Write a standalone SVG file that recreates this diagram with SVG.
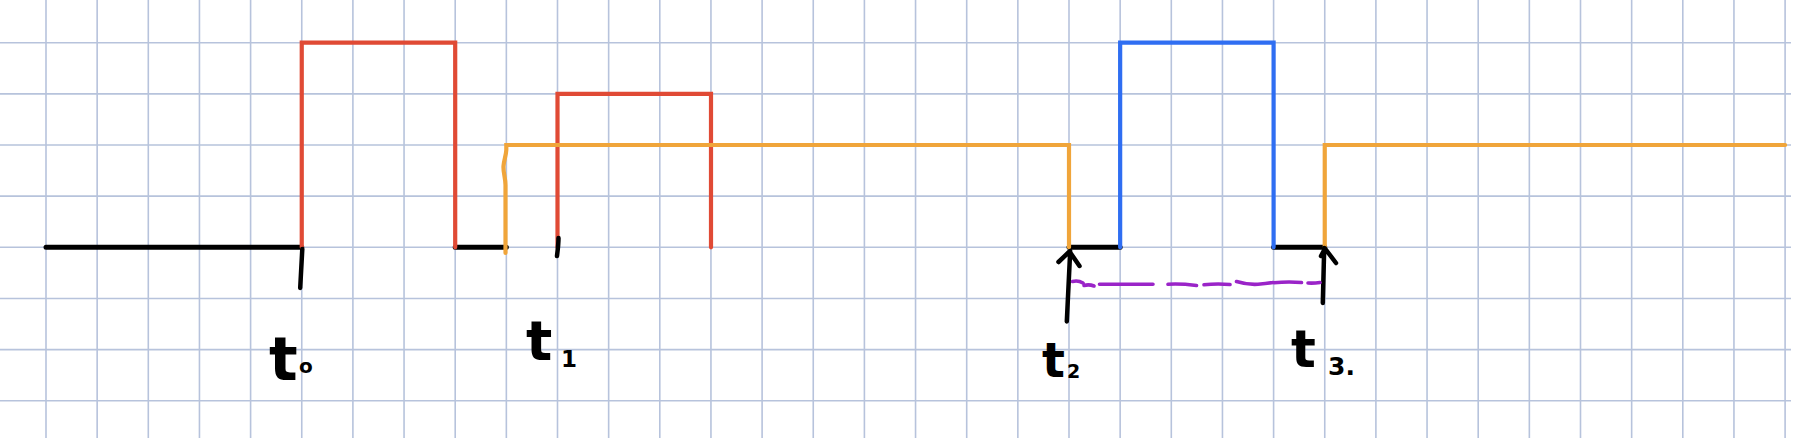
<svg xmlns="http://www.w3.org/2000/svg" width="1798" height="438" viewBox="0 0 1798 438">
<style>
.grid{stroke:#b7c3dc;stroke-width:1.6;fill:none}
.sig{fill:none;stroke-width:4.2;stroke-linejoin:miter;stroke-linecap:round}
.blk{stroke:#000;stroke-width:5}
.red{stroke:#e04a35}
.org{stroke:#f0a53a}
.blu{stroke:#2f6ef2}
.ink{fill:none;stroke:#000;stroke-width:4.5;stroke-linecap:round;stroke-linejoin:round}
.pur{fill:none;stroke:#9a24c8;stroke-width:3.6;stroke-linecap:round;stroke-linejoin:round}
.lbl{font-family:"DejaVu Sans",sans-serif;font-weight:bold;fill:#000}
</style>
<rect width="1798" height="438" fill="#fff"/>
<g id="grid" class="grid">
<path d="M46 0V438M97.15 0V438M148.3 0V438M199.45 0V438M250.6 0V438M301.75 0V438M352.9 0V438M404.05 0V438M455.2 0V438M506.35 0V438M557.5 0V438M608.65 0V438M659.8 0V438M710.95 0V438M762.1 0V438M813.25 0V438M864.4 0V438M915.55 0V438M966.7 0V438M1017.85 0V438M1069 0V438M1120.15 0V438M1171.3 0V438M1222.45 0V438M1273.6 0V438M1324.75 0V438M1375.9 0V438M1427.05 0V438M1478.2 0V438M1529.35 0V438M1580.5 0V438M1631.65 0V438M1682.8 0V438M1733.95 0V438M1785.1 0V438"/>
<path d="M0 42.7H1791M0 93.85H1791M0 145H1791M0 196.15H1791M0 247.3H1791M0 298.45H1791M0 349.6H1791M0 400.75H1791"/>
</g>
<g id="signals">
<path id="black-low" class="sig blk" d="M46 247.3H301.75M455.2 247.3H506.35M1069 247.3H1120.15M1273.6 247.3H1324.75"/>
<path id="red-pulses" class="sig red" d="M301.75 247.3V42.7H455.2V247.3M557.5 247.3V93.85H711V247.3"/>
<path id="orange-level" class="sig org" d="M505.5 253V185C505.5 178 503 172 503.5 166C504 160 506 156 506.3 150V145H1069V247.3M1324.75 247.3V145H1785.1"/>
<path id="blue-pulse" class="sig blu" d="M1120.15 247.3V42.7H1273.6V247.3"/>
</g>
<g id="marks">
<path id="tick-t0" class="ink" d="M302.3 249L300.2 288"/>
<path id="tick-t1" class="ink" d="M558.5 238Q558.5 244 557 256"/>
<path id="arrow-t2" class="ink" d="M1066.8 321.5L1070.2 251M1058.5 262L1069.5 251.5L1079.5 266"/>
<path id="arrow-t3" class="ink" d="M1322.8 303L1324.2 248M1321 256L1325 248.5L1336 263"/>
</g>
<g id="interval" class="pur">
<path d="M1072.5 281.5Q1078 280 1083 283M1084 285.5Q1089 284 1094 286"/>
<path d="M1099.5 284.2H1153M1168 284.3Q1180 283.5 1196.5 285.5M1204 284.8Q1216 283.5 1230 284.5M1236.5 281.5Q1248 285 1258 284.3Q1266 283.5 1273 282.5M1274 282.7Q1288 281.5 1301.5 282.5M1308 283Q1314 283.3 1320 282.5"/>
</g>
<g id="labels">
<text id="label-t0" class="lbl" x="269" y="380" font-size="60">t<tspan x="299" y="373" font-size="20">o</tspan></text>
<text id="label-t1" class="lbl" x="526" y="360" font-size="55">t<tspan x="561" y="367" font-size="23">1</tspan></text>
<text id="label-t2" class="lbl" x="1042" y="377" font-size="48">t<tspan x="1067" y="378" font-size="19">2</tspan></text>
<text id="label-t3" class="lbl" x="1291" y="367" font-size="52">t<tspan x="1328" y="375" font-size="25">3.</tspan></text>
</g>
</svg>
